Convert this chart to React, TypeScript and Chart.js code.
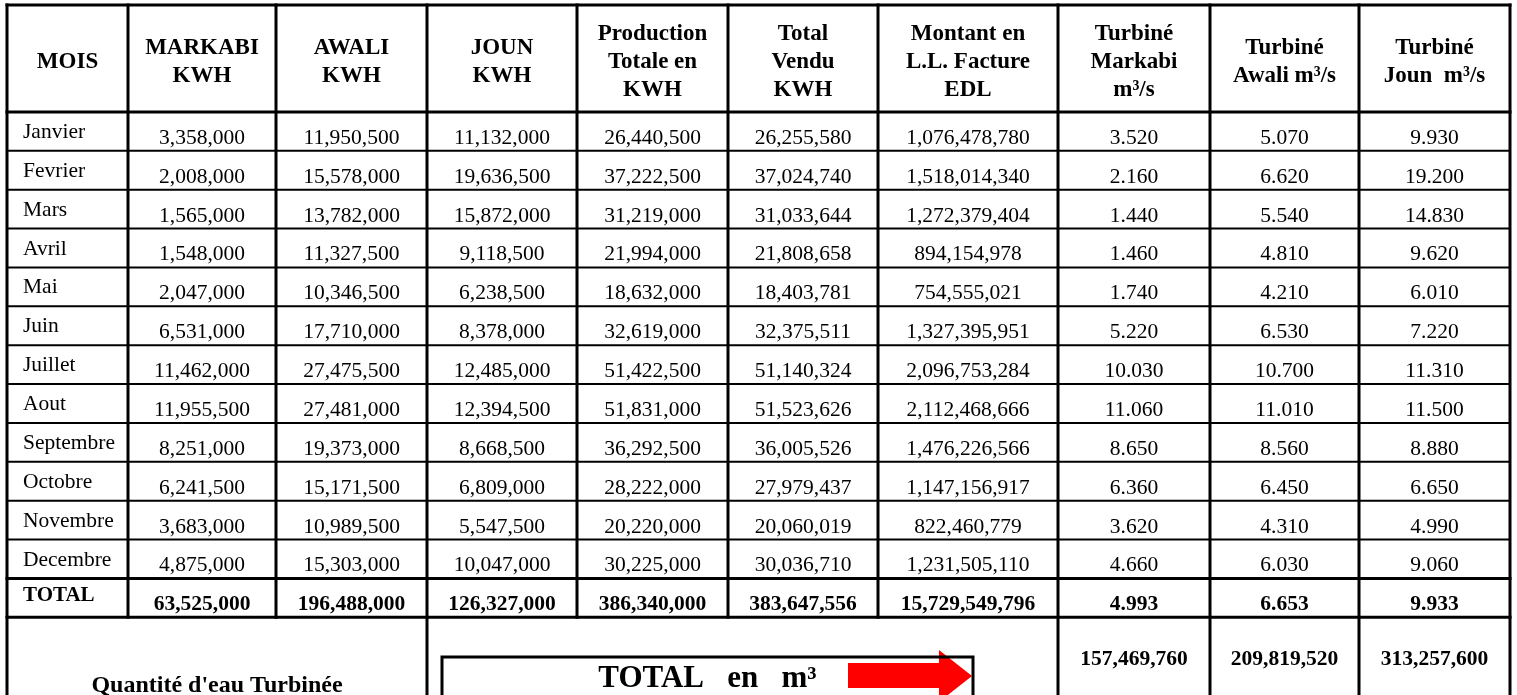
import React, { useEffect, useRef } from 'react';
import { Chart, registerables } from 'chart.js';

Chart.register(...registerables);

// ---------------- DATA ----------------
const months = ['Janvier', 'Fevrier', 'Mars', 'Avril', 'Mai', 'Juin', 'Juillet', 'Aout', 'Septembre', 'Octobre', 'Novembre', 'Decembre'];

const markabiKwh = [3358000, 2008000, 1565000, 1548000, 2047000, 6531000, 11462000, 11955500, 8251000, 6241500, 3683000, 4875000];
const awaliKwh = [11950500, 15578000, 13782000, 11327500, 10346500, 17710000, 27475500, 27481000, 19373000, 15171500, 10989500, 15303000];
const jounKwh = [11132000, 19636500, 15872000, 9118500, 6238500, 8378000, 12485000, 12394500, 8668500, 6809000, 5547500, 10047000];
const productionKwh = [26440500, 37222500, 31219000, 21994000, 18632000, 32619000, 51422500, 51831000, 36292500, 28222000, 20220000, 30225000];
const venduKwh = [26255580, 37024740, 31033644, 21808658, 18403781, 32375511, 51140324, 51523626, 36005526, 27979437, 20060019, 30036710];
const montantLL = [1076478780, 1518014340, 1272379404, 894154978, 754555021, 1327395951, 2096753284, 2112468666, 1476226566, 1147156917, 822460779, 1231505110];
const turbMarkabi = [3.52, 2.16, 1.44, 1.46, 1.74, 5.22, 10.03, 11.06, 8.65, 6.36, 3.62, 4.66];
const turbAwali = [5.07, 6.62, 5.54, 4.81, 4.21, 6.53, 10.7, 11.01, 8.56, 6.45, 4.31, 6.03];
const turbJoun = [9.93, 19.2, 14.83, 9.62, 6.01, 7.22, 11.31, 11.5, 8.88, 6.65, 4.99, 9.06];

const totalLabel = 'TOTAL';
const totalKwh = [63525000, 196488000, 126327000, 386340000, 383647556, 15729549796];
const totalRates = [4.993, 6.653, 9.933];

const volumeLabel = "Quantité d'eau Turbinée";
const volumeBoxLabel = 'TOTAL   en   m³';
const volumeTotals = [157469760, 209819520, 313257600];

const columnHeaders: string[][] = [
  ['MOIS'],
  ['MARKABI', 'KWH'],
  ['AWALI', 'KWH'],
  ['JOUN', 'KWH'],
  ['Production', 'Totale en', 'KWH'],
  ['Total', 'Vendu', 'KWH'],
  ['Montant en', 'L.L. Facture', 'EDL'],
  ['Turbiné', 'Markabi', 'm³/s'],
  ['Turbiné', 'Awali m³/s'],
  ['Turbiné', 'Joun  m³/s'],
];

// ---------------- LAYOUT (not data) ----------------
const colWidths = [121, 148, 151, 150, 151, 150, 180, 152, 149, 151];
const HEADER_ROWS = 2.75;
const BOTTOM_ROWS = 2;
const FONT = '"Liberation Serif", "Times New Roman", serif';

const fmtInt = (n: number) => Math.round(n).toString().replace(/\B(?=(\d{3})+(?!\d))/g, ',');
const fmtRate = (n: number) => n.toFixed(3);

const tablePlugin = {
  id: 'tablePlugin',
  beforeDraw(chart: any) {
    const { ctx, width, height } = chart;
    ctx.save();
    ctx.fillStyle = '#ffffff';
    ctx.fillRect(0, 0, width, height);
    ctx.restore();
  },
  afterDraw(chart: any) {
    const { ctx } = chart;
    const xs = chart.scales.x;
    const ys = chart.scales.y;
    const X = (v: number) => xs.getPixelForValue(v);
    const Y = (v: number) => ys.getPixelForValue(v);
    const b: number[] = [0];
    colWidths.forEach((w) => b.push(b[b.length - 1] + w));
    const nRows = months.length;
    const totalTop = HEADER_ROWS + nRows;
    const bottomTop = totalTop + 1;
    const yEnd = bottomTop + BOTTOM_ROWS + 1;
    const cx = (c0: number, c1: number) => (X(b[c0]) + X(b[c1])) / 2;

    ctx.save();
    ctx.fillStyle = '#000';
    ctx.textBaseline = 'alphabetic';

    // headers
    ctx.font = `bold 23px ${FONT}`;
    ctx.textAlign = 'center';
    columnHeaders.forEach((lines, c) => {
      lines.forEach((t, i) => {
        const yv = 1.62 + (i - (lines.length - 1) / 2) * 0.72;
        ctx.fillText(t, cx(c, c + 1), Y(yv));
      });
    });

    // months
    ctx.font = `21.5px ${FONT}`;
    ctx.textAlign = 'left';
    months.forEach((m, r) => {
      ctx.fillText(m, X(b[0]) + 16, Y(HEADER_ROWS + r + 0.67));
    });

    // values
    ctx.textAlign = 'center';
    const intCols = [markabiKwh, awaliKwh, jounKwh, productionKwh, venduKwh, montantLL];
    const rateCols = [turbMarkabi, turbAwali, turbJoun];
    months.forEach((_, r) => {
      const yy = Y(HEADER_ROWS + r + 0.82);
      intCols.forEach((col, i) => ctx.fillText(fmtInt(col[r]), cx(i + 1, i + 2), yy));
      rateCols.forEach((col, i) => ctx.fillText(fmtRate(col[r]), cx(i + 7, i + 8), yy));
    });

    // total row
    ctx.font = `bold 21px ${FONT}`;
    ctx.textAlign = 'left';
    ctx.fillText(totalLabel, X(b[0]) + 16, Y(totalTop + 0.57));
    ctx.textAlign = 'center';
    ctx.font = `bold 21.5px ${FONT}`;
    totalKwh.forEach((v, i) => ctx.fillText(fmtInt(v), cx(i + 1, i + 2), Y(totalTop + 0.82)));
    totalRates.forEach((v, i) => ctx.fillText(fmtRate(v), cx(i + 7, i + 8), Y(totalTop + 0.82)));

    // bottom section
    ctx.font = `bold 24px ${FONT}`;
    ctx.fillText(volumeLabel, cx(0, 3), Y(bottomTop + 1.92));
    ctx.font = `bold 21.5px ${FONT}`;
    volumeTotals.forEach((v, i) => ctx.fillText(fmtInt(v), cx(i + 7, i + 8), Y(bottomTop + 1.22)));

    // box with label and arrow
    const boxL = X(b[3] + 15);
    const boxR = X(b[7] - 85);
    const boxT = Y(bottomTop + 1.02);
    ctx.font = `bold 31px ${FONT}`;
    ctx.fillText(volumeBoxLabel, (boxL + boxR) / 2, Y(bottomTop + 1.8));
    ctx.fillStyle = '#ff0000';
    ctx.beginPath();
    ctx.moveTo(X(b[7] - 210), Y(bottomTop + 1.18));
    ctx.lineTo(X(b[7] - 119), Y(bottomTop + 1.18));
    ctx.lineTo(X(b[7] - 119), Y(bottomTop + 0.84));
    ctx.lineTo(X(b[7] - 86), Y(bottomTop + 1.51));
    ctx.lineTo(X(b[7] - 119), Y(bottomTop + 2.18));
    ctx.lineTo(X(b[7] - 119), Y(bottomTop + 1.82));
    ctx.lineTo(X(b[7] - 210), Y(bottomTop + 1.82));
    ctx.closePath();
    ctx.fill();
    ctx.strokeStyle = '#000';
    ctx.lineWidth = 3;
    ctx.beginPath();
    ctx.moveTo(boxL, Y(yEnd));
    ctx.lineTo(boxL, boxT);
    ctx.lineTo(boxR, boxT);
    ctx.lineTo(boxR, Y(yEnd));
    ctx.stroke();

    // grid lines
    const line = (x0: number, y0: number, x1: number, y1: number, w: number) => {
      ctx.lineWidth = w;
      ctx.lineCap = 'square';
      ctx.beginPath();
      ctx.moveTo(x0, y0);
      ctx.lineTo(x1, y1);
      ctx.stroke();
    };
    const L = X(b[0]);
    const R = X(b[b.length - 1]);
    // horizontals
    line(L, Y(0), R, Y(0), 3);
    line(L, Y(HEADER_ROWS), R, Y(HEADER_ROWS), 3);
    for (let r = 1; r < nRows; r++) line(L, Y(HEADER_ROWS + r), R, Y(HEADER_ROWS + r), 2);
    line(L, Y(totalTop), R, Y(totalTop), 3);
    line(L, Y(bottomTop), R, Y(bottomTop), 3);
    // verticals
    const fullCols = [0, 3, 7, 8, 9, 10];
    b.forEach((bv, i) => {
      const bottom = fullCols.includes(i) ? Y(yEnd) : Y(bottomTop);
      line(X(bv), Y(0), X(bv), bottom, 3);
    });
    ctx.restore();
  },
};

export default function App() {
  const ref = useRef<HTMLCanvasElement | null>(null);
  useEffect(() => {
    if (!ref.current) return;
    const total = colWidths.reduce((a, c) => a + c, 0);
    const chart = new Chart(ref.current, {
      type: 'scatter',
      data: { datasets: [] },
      options: {
        animation: false,
        responsive: true,
        maintainAspectRatio: false,
        devicePixelRatio: 1,
        events: [],
        layout: { padding: { left: 7, right: 7, top: 5, bottom: 0 } },
        plugins: { legend: { display: false }, tooltip: { enabled: false }, title: { display: false } },
        scales: {
          x: { type: 'linear', min: 0, max: total, display: false },
          y: { type: 'linear', min: 0, max: HEADER_ROWS + months.length + 1 + BOTTOM_ROWS, reverse: true, display: false },
        },
      },
      plugins: [tablePlugin],
    });
    return () => chart.destroy();
  }, []);
  return (
    <div style={{ position: 'fixed', left: 0, top: 0, width: '1517px', height: '695px', background: '#fff' }}>
      <canvas ref={ref} />
    </div>
  );
}
